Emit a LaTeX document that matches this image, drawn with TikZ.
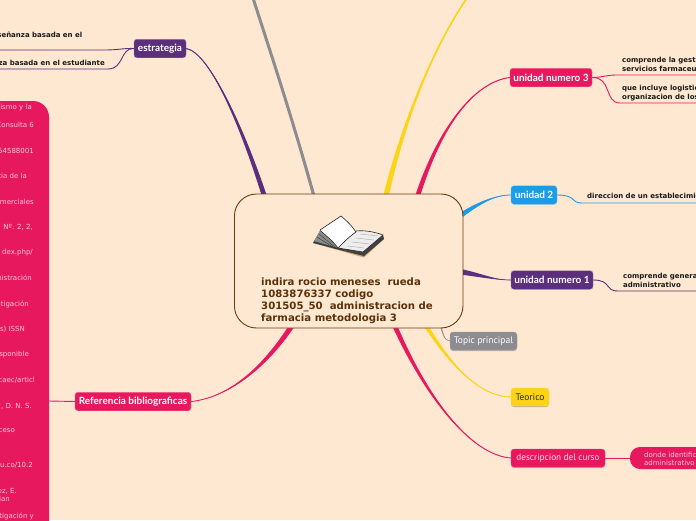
\documentclass[tikz,border=0pt]{standalone}
\usepackage{fontspec}
\setmainfont{DejaVu Sans}
\newfontfamily\labelfont{PT Sans}
\newfontfamily\boldlabel{Lato}
\usetikzlibrary{calc,shadows}
\definecolor{bgc}{HTML}{FEE8D2}
\definecolor{purp}{HTML}{5C2F7C}
\definecolor{pinkc}{HTML}{E8185E}
\definecolor{bluec}{HTML}{1C9CE8}
\definecolor{yell}{HTML}{FCD416}
\definecolor{greyc}{HTML}{8D8D91}
\definecolor{brn}{HTML}{6B3A0C}
\definecolor{brntxt}{HTML}{5A3209}
\definecolor{palepink}{HTML}{FFC9DA}
\newcommand{\taper}[7]{% colour, root, tip, ctrl near root, ctrl near tip, half-width vector, line width
  \fill[#1] ($(#2)+(#6)$) .. controls ($(#4)+0.6*(#6)$) and (#5) .. (#3)
    .. controls (#5) and ($(#4)-0.6*(#6)$) .. ($(#2)-(#6)$) -- cycle;
  \draw[#1,line width=#7] (#2) .. controls (#4) and (#5) .. (#3);
}
\tikzset{
  x=1pt,y=-1pt,
  tbox/.style={rounded corners=3pt,minimum height=18.5pt,inner sep=0pt,text=white,
    font=\boldlabel\bfseries\fontsize{10}{12}\selectfont,draw=#1!70!white,line width=0.4pt,fill=#1},
  rbox/.style={rounded corners=3pt,minimum height=18pt,inner sep=0pt,
    font=\labelfont\fontsize{9.5}{12}\selectfont,fill=#1,draw=#1!80!white,line width=0.3pt,
    drop shadow={shadow xshift=0pt,shadow yshift=-1pt,fill=black!45,opacity=0.6}},
  leaf/.style={inner sep=0pt,align=left,text=black!90,font=\bfseries\fontsize{7}{9}\selectfont},
  reft/.style={inner sep=0pt,anchor=east,text=palepink,font=\fontsize{7}{8.5}\selectfont},
  dtxt/.style={inner sep=0pt,anchor=base west,text=palepink,font=\fontsize{7}{9}\selectfont},
  sub/.style={line width=0.9pt,draw=#1},
}
\begin{document}
\begin{tikzpicture}
\useasboundingbox (0,0) rectangle (696,520);
\clip (0,0) rectangle (696,520);
\fill[bgc] (0,0) rectangle (696,520);

% free ends and roots
\coordinate (gtop) at (253,-2);
\coordinate (ytop) at (467,-2);
\coordinate (r1) at (265,198);
\coordinate (r2) at (314.5,198);
\coordinate (r3) at (385.5,198);
\coordinate (r4) at (417,198);
\coordinate (r5) at (457,218);
\coordinate (r6) at (457,271);
\coordinate (r7) at (440,324);
\coordinate (r8) at (425,324);
\coordinate (r9) at (394,324);
\coordinate (r10) at (293,324);

% nodes
\node[tbox=purp,minimum width=52pt] (estr) at (160,48.5) {estrategia};
\node[tbox=pinkc,minimum width=116pt] (refb) at (133,401.5) {Referencia bibliograficas};
\node[tbox=pinkc,minimum width=82pt] (u3) at (551,77.5) {unidad numero 3};
\node[tbox=bluec,minimum width=46pt] (u2) at (534,195) {unidad 2};
\node[tbox=purp,minimum width=82pt] (u1) at (552,280) {unidad numero 1};
\node[rbox=greyc,minimum width=67pt,text=white] (tp) at (483.5,341) {Topic principal};
\node[rbox=yell,minimum width=38pt,text=black!85] (teo) at (530,397) {Teorico};
\node[rbox=pinkc,minimum width=94pt,text=white!88!pinkc] (desc) at (558,458) {\fontsize{9.2}{12}\selectfont descripcion del curso};
\coordinate (lend1) at (-2,50);
\coordinate (lend2) at (-2,69);
\coordinate (rend1) at (698,75);
\coordinate (rend2) at (698,103);
\coordinate (rend3) at (698,203);
\coordinate (rend4) at (698,291);

% main branches
\taper{purp}{r1}{estr.east}{240,120}{208,52}{2.6,0}{1pt}
\taper{greyc}{r2}{gtop}{290,110}{268,45}{1.4,0}{3pt}
\taper{yell}{r3}{ytop}{405,115}{435,45}{2.8,0}{1.6pt}
\taper{pinkc}{r4}{u3.west}{440,125}{475,82}{2.6,0}{1pt}
\taper{bluec}{r5}{u2.west}{478,203}{495,195}{1.6,2.2}{0.8pt}
\taper{purp}{r6}{u1.west}{485,276}{495,280}{0,3}{0.7pt}
\taper{greyc}{r7}{tp.west}{443,333}{444,341}{0.8,0}{0.6pt}
\taper{yell}{r8}{teo.west}{450,365}{480,397}{2.4,0}{0.9pt}
\taper{pinkc}{r9}{desc.west}{425,395}{470,455}{2.6,0}{0.9pt}
\taper{pinkc}{r10}{refb.east}{262,372}{225,398}{2.2,1.6}{0.8pt}

% secondary connectors
\draw[sub=purp] (estr.west) .. controls (125,48) and (118,50) .. (105,50) -- (lend1);
\draw[sub=purp] (estr.west) .. controls (120,48) and (124,69) .. (108,69) -- (lend2);
\draw[sub=pinkc] (u3.east) .. controls (602,77.5) and (606,75) .. (616,75) -- (rend1);
\draw[sub=pinkc] (u3.east) .. controls (612,77) and (604,103) .. (620,103) -- (rend2);
\draw[sub=bluec] (u2.east) .. controls (577,195) and (570,203) .. (582,203) -- (rend3);
\draw[sub=purp] (u1.east) .. controls (612,280) and (604,291) .. (618,291) -- (rend4);

% leaf texts
\node[leaf,anchor=base east] (l1) at (82.5,37) {señanza basada en el};
\node[leaf,anchor=base east] (l2) at (105,65) {za basada en el estudiante};
\node[leaf,anchor=base west] (l3) at (622,62) {comprende la gesti};
\node[leaf,anchor=base west] (l4) at (622,71) {servicios farmaceu};
\node[leaf,anchor=base west] (l5) at (622,90) {que incluye logistic};
\node[leaf,anchor=base west] (l6) at (622,99) {organizacion de los};
\node[leaf,anchor=base west] (l7) at (587,198) {direccion de un establecimie};
\node[leaf,anchor=base west] (l8) at (623,278.5) {comprende general};
\node[leaf,anchor=base west] (l9) at (623,287.5) {administrativo};

% reference block
\fill[pinkc] (-20,101) [rounded corners=16pt] -- (49,101) -- (49,540) [sharp corners] -- (-20,540) -- cycle;
\coordinate (pb) at (49,401);
\draw[sub=pinkc] (pb) -- (refb.west);
\foreach \n/\ty/\tx/\tt in {
 a/108/32/{ismo y la}, b/125/34/{Consulta 6}, c/151/34/{54588001}, d/176/27/{cia de la},
 e/202/34/{merciales}, f/227/33/{Nº. 2, 2,}, g/253/33/{dex.php/}, h/278/32/{nistración},
 i/304/29/{stigación}, j/329/25/{s) ISSN}, k/355/29/{sponible}, l/380/35/{caec/articl},
 m/406/32/{, D. N. S.}, n/431/15/{ceso}, o/465/33/{u.co/10.2}, p/491/17/{ez, E.},
 q/499/10/{lan}, r/516/34/{tigación y}}
  {\node[reft] (ref\n) at (\tx,\ty) {\tt};}

% descripcion child
\node[fill=pinkc,rounded corners=10pt,minimum height=22pt,minimum width=90pt,inner sep=0pt] (dn) at (675,458) {};
\draw[sub=pinkc] (desc.east) -- (dn.west);
\node[dtxt] (dt1) at (644,457) {donde identific};
\node[dtxt] (dt2) at (644,465) {administrativo};

% centre
\node[draw=brn,fill=bgc,line width=0.9pt,rounded corners=22pt,minimum width=228.5pt,minimum height=134pt,inner sep=0pt] (c) at (348.7,261) {};
\node[inner sep=0pt,anchor=north west,align=left,text=brntxt,font=\bfseries\fontsize{10.15}{12.1}\selectfont] (ct) at (261,277.5) {indira rocio meneses\ \ rueda\\1083876337 codigo\\301505\_50\ \ administracion de\\farmacia metodologia 3};

% book
\fill[brown!70!bgc] (313,243) -- (364,257.5) -- (384,239) -- (383,237) -- (364,254) -- (315,240) -- cycle;
\fill[black!75] (320,231) -- (313,243) -- (340,250) -- (364,256) -- (384,239) -- (383,235) -- (343,249) -- cycle;
\fill[black!45] (320,231) -- (314,241) -- (338,248) -- (340,240) -- cycle;
\draw[black!80,line width=0.4pt] (319,234) -- (336,248) (317,237) -- (336,249);
\draw[fill=white!93!black,draw=none] (338,248) -- (357,231) -- (383,235) -- (363,252) -- cycle;
\draw[black!85,line width=0.6pt] (338,248) .. controls (345,240) and (350,235) .. (356,231) .. controls (365,230) and (375,232) .. (383,235) -- (363,252) -- cycle;
\draw[black!30,line width=0.5pt] (360,234) -- (378,236) (356,238) -- (374,240) (352,242) -- (370,244) (348,246) -- (364,248);
\draw[fill=white,draw=black!85,line width=0.6pt] (320,230) -- (341,216) .. controls (348,222) and (352,226) .. (356,232) .. controls (350,236) and (344,242) .. (338,248) .. controls (332,240) and (326,236) .. (320,230) -- cycle;
\end{tikzpicture}
\end{document}
